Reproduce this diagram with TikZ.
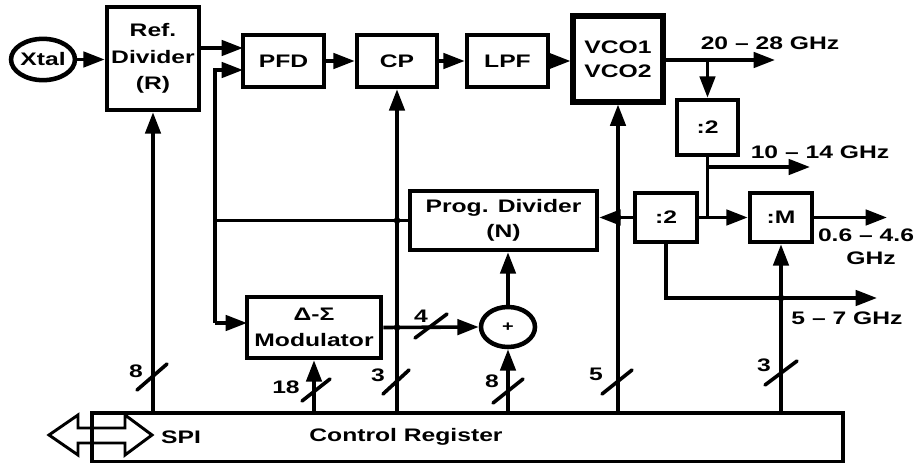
\documentclass[tikz,border=0pt]{standalone}
\usepackage{fontspec}
\setmainfont{Liberation Sans}[FakeStretch=1.36]
\usetikzlibrary{arrows.meta,shapes.geometric}
\tikzset{
  txt/.style={font=\bfseries\fontsize{13.6}{19}\selectfont},
  box/.style={txt, draw, line width=3.4pt, rectangle, inner sep=0pt, align=center},
  ell/.style={txt, draw, line width=3.4pt, ellipse, inner sep=0pt},
  crbox/.style={draw, line width=2.4pt, rectangle, inner sep=0pt},
  conn/.style={line width=2.7pt},
  arr/.style={conn, -{Triangle[length=16pt,width=11.5pt]}},
  jdot/.style={circle, fill, inner sep=0pt, minimum size=5pt},
  lbl/.style={txt, inner sep=0pt},
  busmark/.style={line width=2.7pt, line cap=round}
}
\begin{document}
\begin{tikzpicture}[x=0.75pt,y=-0.75pt]
\useasboundingbox (0,0) rectangle (917,463);
% blocks
\node[ell, minimum width=45pt, minimum height=31pt] (xtal) at (43,59.5) {Xtal};
\node[box, minimum width=69pt, minimum height=77.25pt, font=\bfseries\fontsize{13.6}{20}\selectfont] (ref) at (153,58.5) {Ref.\\Divider\\(R)};
\node[box, minimum width=60.75pt, minimum height=39pt] (pfd) at (283.5,61) {PFD};
\node[box, minimum width=60pt, minimum height=39pt] (cp) at (397,61) {CP};
\node[box, minimum width=60.75pt, minimum height=39pt] (lpf) at (507.5,61) {LPF};
\node[box, line width=3.8pt, minimum width=67.5pt, minimum height=64.5pt, font=\bfseries\fontsize{13.6}{18}\selectfont] (vco) at (618,59) {VCO1\\VCO2};
\node[box, minimum width=45.75pt, minimum height=41.25pt] (d1) at (707.5,127.5) {:2};
\node[box, minimum width=46.5pt, minimum height=36.75pt] (d2) at (666,217.5) {:2};
\node[box, minimum width=46.5pt, minimum height=36.75pt] (m) at (781,217.5) {:M};
\node[box, minimum width=140.25pt, minimum height=44.25pt] (prog) at (503.5,220.5) {Prog. Divider\\(N)};
\node[box, minimum width=100.5pt, minimum height=45.75pt] (ds) at (314,327.5) {Δ-Σ\\Modulator};
\node[ell, minimum width=40.5pt, minimum height=30pt, font=\bfseries\fontsize{11}{13}\selectfont] (plus) at (508,327) {+};
\node[crbox, minimum width=563.25pt, minimum height=36.75pt] (cr) at (467.5,437.5) {};
% helper coordinates
\coordinate (pin1) at (243,48);
\coordinate (pin2) at (243,70);
\coordinate (fb) at (215,220);
\coordinate (dsin) at (247,323);
\coordinate (o1) at (775,60);
\coordinate (o2) at (810,167);
\coordinate (o3) at (877,298);
\coordinate (o4) at (887,218);
% main chain
\draw[arr] (xtal.east) -- (xtal.east -| ref.west);
\draw[arr] (ref.east |- pin1) -- (pin1);
\draw[arr] (pfd.east) -- (cp.west);
\draw[arr] (cp.east) -- (lpf.west);
\draw[arr] (lpf.east) -- (lpf.east -| vco.west);
\draw[arr] (vco.east |- o1) -- (o1);
\draw[arr] (d1.north |- o1) -- (d1.north);
\draw[arr] (d1.south) |- (m.west);
\draw[arr] (d1.south |- o2) -- (o2);
\draw[conn] (d2.east) -- (d2.east -| d1.south);
\draw[arr] (d2.west) -- (d2.west -| prog.east);
\draw[arr] (d2.south) |- (o3);
\draw[arr] (m.east) -- (m.east -| o4);
% feedback
\draw[conn] (prog.west) -- (prog.west -| fb);
\draw[arr, line join=miter] (fb |- dsin) |- (pin2);
\draw[arr] (fb |- dsin) -- (dsin);
\draw[arr] (ds.east) -- (plus.west);
\draw[arr] (plus.north) -- (plus.north |- prog.south);
% control lines
\draw[arr] (ref.south |- cr.north) -- (ref.south);
\draw[arr] (ds.south |- cr.north) -- (ds.south);
\draw[arr] (cp.south |- cr.north) -- (cp.south);
\draw[arr] (plus.south |- cr.north) -- (plus.south);
\draw[arr] (vco.south |- cr.north) -- (vco.south);
\draw[arr] (m.south |- cr.north) -- (m.south);
% junction dots
\node[jdot] (j1) at (cp.south |- prog.west) {};
\node[jdot] (j2) at (cp.south |- ds.east) {};
\node[jdot] (j3) at (vco.south |- d2.west) {};
\node[jdot] (j4) at (m.south |- o3) {};
% bus width marks
\draw[busmark] (152,377) +(-15,13) -- +(15,-13);
\draw[busmark] (316,390) +(-14,11) -- +(14,-11);
\draw[busmark] (396,382) +(-13,12) -- +(13,-12);
\draw[busmark] (431,326) +(-16,12) -- +(16,-12);
\draw[busmark] (508,391) +(-15,12) -- +(15,-12);
\draw[busmark] (617,382) +(-15,12) -- +(15,-12);
\draw[busmark] (781,373) +(-16,12) -- +(16,-12);
\node[lbl] (b1) at (136,371) {8};
\node[lbl] (b2) at (286,387) {18};
\node[lbl] (b3) at (378,375) {3};
\node[lbl] (b4) at (421,316) {4};
\node[lbl] (b5) at (492,381) {8};
\node[lbl] (b6) at (596,374) {5};
\node[lbl] (b7) at (764,365) {3};
% output labels
\node[lbl] (t1) at (770,43) {20 – 28 GHz};
\node[lbl] (t2) at (820,152) {10 – 14 GHz};
\node[lbl] (t3) at (866,235) {0.6 – 4.6};
\node[lbl] (t4) at (871,258) {GHz};
\node[lbl] (t5) at (847,318) {5 – 7 GHz};
% SPI arrow and register text
\draw[line width=2.2pt, line join=miter] (49,435) -- (78,415) -- (78,428) -- (125,428) -- (125,415) -- (152,435) -- (125,455) -- (125,443) -- (78,443) -- (78,455) -- cycle;
\node[lbl] (spi) at (181,437) {SPI};
\node[lbl] (crt) at (406,437) {Control Register};
\end{tikzpicture}
\end{document}
